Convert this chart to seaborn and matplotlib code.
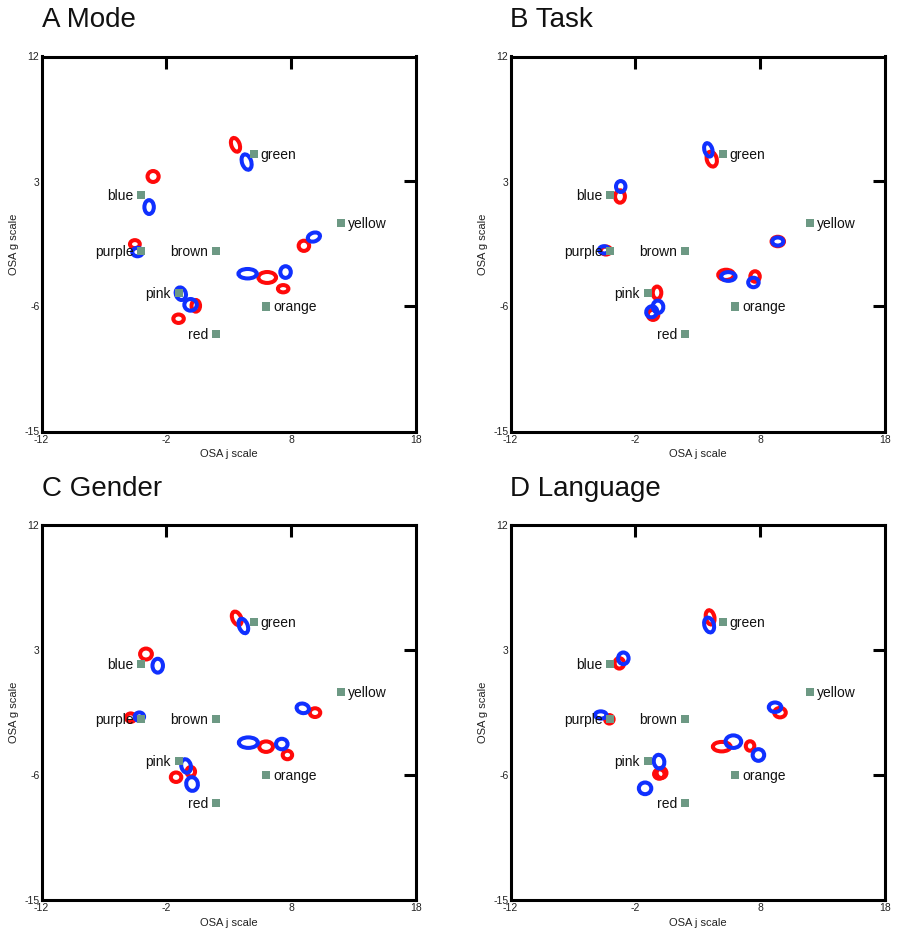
import matplotlib
matplotlib.use("Agg")
import matplotlib.pyplot as plt
from matplotlib.patches import Ellipse
import pandas as pd
import seaborn as sns

sns.set_theme(style="white")
plt.rcParams["font.family"] = ["Liberation Sans", "DejaVu Sans"]

# Colour samples: OSA j / g coordinates and which side the name goes
samples = ["green", "blue", "yellow", "purple", "brown", "pink", "orange", "red"]
sample_j = [5, -4, 12, -4, 2, -1, 6, 2]
sample_g = [5, 2, 0, -2, -2, -5, -6, -8]
label_side = ["right", "left", "right", "left", "left", "left", "right", "left"]

panel_titles = ["A Mode", "B Task", "C Gender", "D Language"]
x_ticks = [-12, -2, 8, 18]
y_ticks = [-15, -6, 3, 12]

# Confidence ellipses per panel and group (order follows `samples`)
mode_red_j = [3.54, -3.06, 9.02, -4.52, 6.08, 0.36, 7.36, -1.02]
mode_red_g = [5.64, 3.36, -1.63, -1.51, -3.91, -5.95, -4.72, -6.88]
mode_red_w = [0.62, 0.85, 0.80, 0.75, 1.35, 0.65, 0.80, 0.80]
mode_red_h = [1.00, 0.75, 0.70, 0.55, 0.75, 0.80, 0.50, 0.58]
mode_red_a = [25, 0, 0, 0, 0, 0, 0, 0]
mode_blue_j = [4.43, -3.38, 9.82, -4.31, 4.51, -0.84, 7.55, -0.06]
mode_blue_g = [4.40, 1.16, -1.00, -2.08, -3.64, -5.08, -3.52, -5.88]
mode_blue_w = [0.70, 0.72, 0.95, 0.80, 1.40, 0.75, 0.80, 0.95]
mode_blue_h = [1.10, 0.95, 0.60, 0.58, 0.65, 0.90, 0.80, 0.80]
mode_blue_a = [22, 0, 15, 0, 0, 30, 0, 0]

task_red_j = [4.12, -3.23, 9.41, -4.35, 5.27, -0.26, 7.59, -0.58]
task_red_g = [4.61, 1.92, -1.32, -1.97, -3.72, -5.01, -3.84, -6.60]
task_red_w = [0.75, 0.75, 0.95, 0.80, 1.20, 0.65, 0.72, 0.80]
task_red_h = [1.05, 0.85, 0.65, 0.55, 0.70, 0.85, 0.72, 0.70]
task_red_a = [20, 0, 0, 0, 0, 0, 0, 0]
task_blue_j = [3.85, -3.17, 9.41, -4.51, 5.45, -0.18, 7.46, -0.69]
task_blue_g = [5.28, 2.64, -1.32, -1.92, -3.84, -6.02, -4.27, -6.38]
task_blue_w = [0.60, 0.72, 0.85, 0.75, 1.10, 0.80, 0.80, 0.85]
task_blue_h = [0.95, 0.75, 0.55, 0.50, 0.60, 0.85, 0.65, 0.75]
task_blue_a = [20, 0, 0, 0, 0, 20, 0, 20]

gender_red_j = [3.64, -3.63, 9.91, -4.85, 5.99, -0.04, 7.70, -1.22]
gender_red_g = [5.28, 2.71, -1.51, -1.87, -3.96, -5.76, -4.56, -6.16]
gender_red_w = [0.65, 0.90, 0.80, 0.72, 1.05, 0.65, 0.72, 0.80]
gender_red_h = [1.00, 0.75, 0.60, 0.58, 0.72, 0.65, 0.58, 0.65]
gender_red_a = [30, 0, 0, 0, 0, 0, 0, 0]
gender_blue_j = [4.17, -2.69, 8.93, -4.16, 4.57, -0.42, 7.25, 0.06]
gender_blue_g = [4.73, 1.87, -1.20, -1.80, -3.67, -5.35, -3.77, -6.65]
gender_blue_w = [0.65, 0.80, 0.95, 0.72, 1.45, 0.72, 0.88, 0.88]
gender_blue_h = [1.05, 0.95, 0.65, 0.58, 0.72, 0.95, 0.72, 0.95]
gender_blue_a = [25, 0, -10, 0, 0, 20, 0, 25]

language_red_j = [3.99, -3.28, 9.59, -4.08, 4.92, -0.08, 7.19, 0.10]
language_red_g = [5.35, 2.04, -1.51, -1.99, -3.96, -5.93, -3.91, -5.85]
language_red_w = [0.65, 0.72, 0.88, 0.65, 1.35, 0.80, 0.65, 0.75]
language_red_h = [1.00, 0.72, 0.65, 0.58, 0.65, 0.65, 0.65, 0.70]
language_red_a = [15, 0, 0, 0, 0, 0, 0, 0]
language_blue_j = [3.91, -2.96, 9.19, -4.77, 5.85, -0.10, 7.86, -1.22]
language_blue_g = [4.80, 2.40, -1.12, -1.68, -3.60, -5.04, -4.56, -6.96]
language_blue_w = [0.72, 0.80, 0.95, 0.88, 1.20, 0.80, 0.88, 0.95]
language_blue_h = [1.05, 0.80, 0.65, 0.50, 0.86, 0.95, 0.80, 0.80]
language_blue_a = [20, 0, 0, 0, 0, 15, 0, 0]

RED = "#ff0a0a"
BLUE = "#1030ff"
SQUARE = "#6d9984"

panels = [
    [(RED, mode_red_j, mode_red_g, mode_red_w, mode_red_h, mode_red_a),
     (BLUE, mode_blue_j, mode_blue_g, mode_blue_w, mode_blue_h, mode_blue_a)],
    [(RED, task_red_j, task_red_g, task_red_w, task_red_h, task_red_a),
     (BLUE, task_blue_j, task_blue_g, task_blue_w, task_blue_h, task_blue_a)],
    [(RED, gender_red_j, gender_red_g, gender_red_w, gender_red_h, gender_red_a),
     (BLUE, gender_blue_j, gender_blue_g, gender_blue_w, gender_blue_h, gender_blue_a)],
    [(RED, language_red_j, language_red_g, language_red_w, language_red_h, language_red_a),
     (BLUE, language_blue_j, language_blue_g, language_blue_w, language_blue_h, language_blue_a)],
]

samples_df = pd.DataFrame({"name": samples, "j": sample_j, "g": sample_g, "side": label_side})

W, H = 899, 933
fig = plt.figure(figsize=(W / 100, H / 100), dpi=100)

ax_w = 374.5 / W
ax_h = 375.0 / H
lefts = [41.5 / W, 510.5 / W]
bottoms = [(H - 431.5) / H, (H - 900.0) / H]

for idx, title in enumerate(panel_titles):
    row, col = divmod(idx, 2)
    ax = fig.add_axes([lefts[col], bottoms[row], ax_w, ax_h])

    for color, js, gs, ws, hs, angs in panels[idx]:
        for j, g, w, h, a in zip(js, gs, ws, hs, angs):
            ax.add_patch(Ellipse((j, g), w * 1.05, h * 1.05, angle=a, fill=False,
                                 edgecolor=color, linewidth=2.9, zorder=3))

    sns.scatterplot(data=samples_df, x="j", y="g", marker="s", s=34,
                    color=SQUARE, edgecolor="none", linewidth=0, ax=ax,
                    zorder=4, legend=False)
    for _, r in samples_df.iterrows():
        if r.side == "right":
            ax.annotate(r["name"], (r.j, r.g), xytext=(7, -5),
                        textcoords="offset pixels", ha="left", va="baseline",
                        fontsize=10, color="#111111", zorder=5)
        else:
            ax.annotate(r["name"], (r.j, r.g), xytext=(-8, -5),
                        textcoords="offset pixels", ha="right", va="baseline",
                        fontsize=10, color="#111111", zorder=5)

    ax.set_xlim(-12, 18)
    ax.set_ylim(-15, 12)
    ax.set_xticks(x_ticks)
    ax.set_yticks(y_ticks)
    ax.set_xticklabels([str(t) for t in x_ticks])
    ax.set_yticklabels([str(t) for t in y_ticks])
    ax.tick_params(direction="in", length=8.6, width=2.2, top=True, right=True,
                   labelsize=7.5, color="black", labelcolor="#222222")
    ax.tick_params(axis="x", pad=2.5)
    ax.tick_params(axis="y", pad=1.5)
    # the end ticks sit on the frame itself, so only their labels are shown
    for axis in (ax.xaxis, ax.yaxis):
        ticks = axis.get_major_ticks()
        for t in (ticks[0], ticks[-1]):
            t.tick1line.set_visible(False)
            t.tick2line.set_visible(False)
    for sp in ax.spines.values():
        sp.set_visible(True)
        sp.set_color("black")
        sp.set_linewidth(2.2)
    ax.set_xlabel("OSA j scale", fontsize=8, labelpad=3, color="#222222")
    ax.set_ylabel("OSA g scale", fontsize=8, labelpad=4, color="#222222")
    ax.set_title(title, loc="left", fontsize=20, pad=21, color="#111111")

fig.savefig("out.png", dpi=100)
